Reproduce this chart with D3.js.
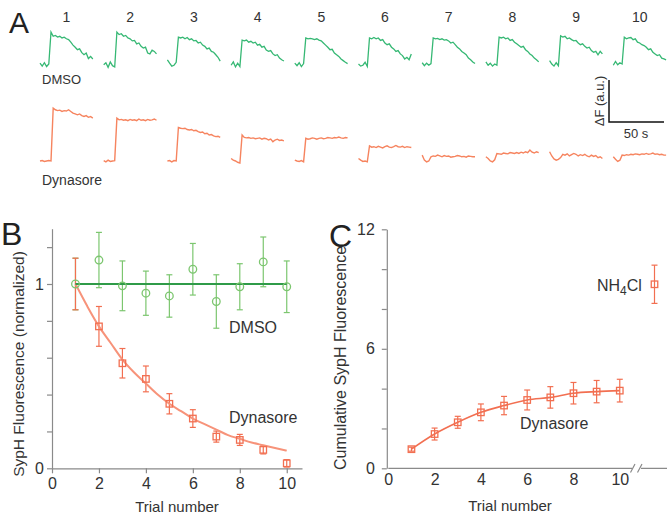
<!DOCTYPE html>
<html><head><meta charset="utf-8">
<script src="https://cdn.jsdelivr.net/npm/d3@7/dist/d3.min.js"></script>
<style>
body{margin:0;background:#fff;}
svg{display:block;font-family:"Liberation Sans",Arial,sans-serif;}
</style></head>
<body><svg id="c" width="667" height="518"></svg>
<script>
// ---------- DATA ----------
const trials = [1,2,3,4,5,6,7,8,9,10];
// Panel A traces: ΔF (a.u.) sampled every 2 s (0..48 s)
const traceTimes = d3.range(0, 50, 2);
const dmsoTraces = [
 [0.02,-0.05,0.03,-0.06,0.00,0.76,0.66,0.68,0.64,0.66,0.62,0.64,0.60,0.58,0.52,0.45,0.40,0.34,0.36,0.27,0.22,0.26,0.13,0.18,0.12],
 [-0.02,0.03,-0.08,0.05,-0.04,-0.07,0.76,0.70,0.72,0.66,0.68,0.62,0.60,0.55,0.56,0.48,0.50,0.42,0.38,0.40,0.26,0.24,0.33,0.30,0.24],
 [0.10,0.02,-0.05,-0.03,0.04,0.64,0.62,0.64,0.60,0.63,0.58,0.60,0.55,0.56,0.50,0.52,0.45,0.42,0.36,0.38,0.30,0.28,0.22,0.16,0.07],
 [-0.03,0.05,-0.07,0.02,-0.06,0.57,0.55,0.57,0.52,0.54,0.50,0.52,0.45,0.47,0.40,0.42,0.33,0.30,0.32,0.24,0.20,0.22,0.14,0.10,0.07],
 [0.02,-0.04,0.03,-0.06,0.01,0.62,0.60,0.61,0.60,0.58,0.60,0.57,0.55,0.50,0.45,0.40,0.34,0.35,0.26,0.22,0.18,0.12,0.08,0.04,0.01],
 [0.00,-0.05,-0.03,0.04,-0.06,0.62,0.60,0.63,0.60,0.62,0.56,0.58,0.50,0.46,0.48,0.40,0.36,0.30,0.32,0.24,0.20,0.12,0.16,0.10,0.24],
 [0.03,-0.04,0.02,-0.03,0.01,0.62,0.60,0.61,0.58,0.60,0.57,0.58,0.55,0.50,0.52,0.46,0.40,0.36,0.30,0.26,0.22,0.14,0.10,0.05,0.01],
 [0.05,-0.03,0.02,-0.05,0.00,-0.03,0.64,0.62,0.64,0.60,0.62,0.56,0.58,0.52,0.48,0.44,0.40,0.42,0.34,0.30,0.24,0.20,0.14,0.10,0.05],
 [0.08,0.00,-0.05,0.03,-0.04,0.67,0.64,0.66,0.60,0.62,0.58,0.55,0.56,0.50,0.46,0.48,0.42,0.38,0.40,0.32,0.28,0.30,0.22,0.30,0.24],
 [-0.03,0.06,-0.02,0.03,0.00,0.64,0.60,0.62,0.63,0.58,0.60,0.52,0.50,0.46,0.44,0.40,0.34,0.36,0.28,0.24,0.20,0.22,0.14,0.12,0.10]
];
const dynTraces = [
 [0.00,0.01,-0.01,0.00,0.01,0.00,1.26,1.22,1.20,1.21,1.18,1.20,1.19,1.22,1.18,1.14,1.12,1.10,1.12,1.08,1.06,1.08,1.04,1.06,1.02],
 [0.01,-0.02,0.02,-0.01,0.00,0.01,1.02,0.98,0.99,0.97,0.98,0.96,0.99,0.97,0.98,0.96,1.00,0.97,0.98,0.96,0.99,0.97,0.98,1.00,0.97],
 [0.00,0.01,-0.02,0.01,0.00,0.80,0.78,0.77,0.78,0.75,0.74,0.75,0.72,0.73,0.70,0.68,0.69,0.65,0.66,0.62,0.63,0.60,0.58,0.59,0.56],
 [0.06,0.02,0.00,-0.03,-0.05,0.62,0.56,0.55,0.56,0.54,0.55,0.53,0.54,0.55,0.52,0.54,0.53,0.50,0.52,0.46,0.50,0.52,0.49,0.50,0.48],
 [0.02,0.00,-0.01,0.01,-0.02,0.54,0.52,0.53,0.55,0.54,0.52,0.54,0.55,0.53,0.54,0.56,0.55,0.54,0.56,0.55,0.57,0.55,0.54,0.56,0.55],
 [0.06,0.02,-0.01,0.00,-0.02,0.36,0.33,0.34,0.32,0.35,0.33,0.31,0.34,0.36,0.33,0.32,0.34,0.37,0.34,0.33,0.35,0.32,0.34,0.33,0.32],
 [0.14,0.02,-0.02,0.00,0.10,0.12,0.11,0.14,0.12,0.10,0.13,0.11,0.12,0.09,0.10,0.11,0.13,0.12,0.10,0.11,0.09,0.12,0.11,0.10,0.10],
 [0.10,0.06,0.00,-0.02,0.03,0.18,0.17,0.16,0.19,0.18,0.17,0.20,0.19,0.18,0.20,0.18,0.21,0.19,0.22,0.20,0.26,0.21,0.19,0.22,0.20],
 [0.22,0.12,0.05,0.02,0.04,0.08,0.16,0.14,0.17,0.12,0.15,0.18,0.16,0.12,0.15,0.13,0.16,0.12,0.10,0.14,0.11,0.13,0.08,0.10,0.06],
 [0.10,0.04,-0.01,0.02,0.14,0.13,0.15,0.14,0.16,0.15,0.17,0.16,0.15,0.17,0.16,0.18,0.16,0.17,0.19,0.16,0.17,0.15,0.16,0.14,0.14]
];
// Panel B: normalized SypH fluorescence
const dmsoMean = [1.00,1.13,0.99,0.95,0.935,1.08,0.905,0.985,1.12,0.985];
const dmsoErr  = [0.14,0.15,0.135,0.12,0.115,0.14,0.145,0.125,0.135,0.14];
const dynMean  = [1.00,0.77,0.57,0.485,0.35,0.27,0.172,0.154,0.10,0.027];
const dynErr   = [0.14,0.108,0.08,0.07,0.055,0.048,0.03,0.03,0.022,0.02];
const fitX     = [1,1.5,2,2.5,3,3.5,4,4.5,5,5.5,6,6.5,7,7.5,8,8.5,9,9.5,10];
const fitY     = [1,0.88,0.77,0.68,0.59,0.52,0.46,0.40,0.35,0.31,0.27,0.24,0.21,0.18,0.16,0.14,0.125,0.11,0.096];
// Panel C: cumulative
const cumMean  = [0.96,1.72,2.31,2.81,3.15,3.43,3.56,3.77,3.85,3.90];
const cumErr   = [0.10,0.30,0.30,0.42,0.46,0.50,0.54,0.54,0.56,0.57];
const nh4Pos = 11.5, nh4Mean = 9.24, nh4Err = 0.96;
const bYTicks = [0,0.2,0.4,0.6,0.8,1,1.2];
const cYTicks = [0,2,4,6,8,10,12];
const xTicks = [0,2,4,6,8,10];

// ---------- STYLE ----------
const GREEN_TR = "#36b874", ORANGE_TR = "#f6845f";
const GREEN_PT = "#7cc66f", GREEN_LN = "#2f9b48";
const ORANGE_PT = "#f26f51", ORANGE_LN = "#f7937a";
const AXIS = "#8a8a8a", TXT = "#333";

const svg = d3.select("#c");

// ---------- PANEL A ----------
const xStart = d3.scaleLinear().domain([1,10]).range([40,613.3]);
const xT = d3.scaleLinear().domain([0,48]).range([0,52.8]);
const yT = d3.scaleLinear().domain([0,1]).range([0,-42]);
const tline = d3.line().x((d,j)=>xT(traceTimes[j])).y(d=>yT(d));

svg.append("text").attr("x",9).attr("y",33).attr("font-size",30).attr("fill","#222").text("A");

trials.forEach((t,i)=>{
  svg.append("text").attr("x",xStart(t)+26.5).attr("y",22).attr("text-anchor","middle")
    .attr("font-size",14).attr("fill",TXT).text(t);
  svg.append("path").attr("transform",`translate(${xStart(t)},64)`)
    .attr("d",tline(dmsoTraces[i])).attr("fill","none").attr("stroke",GREEN_TR).attr("stroke-width",1.3);
  svg.append("path").attr("transform",`translate(${xStart(t)},161)`)
    .attr("d",tline(dynTraces[i])).attr("fill","none").attr("stroke",ORANGE_TR).attr("stroke-width",1.4);
});
svg.append("text").attr("x",42).attr("y",84).attr("font-size",13).attr("fill",TXT).text("DMSO");
svg.append("text").attr("x",42).attr("y",185).attr("font-size",14).attr("fill",TXT).text("Dynasore");

// scale bar
const sbX = 609, sbY = 122;
svg.append("path").attr("d",`M${sbX},${sbY+yT(1)}V${sbY}H${sbX+xT(50)}`)
  .attr("fill","none").attr("stroke","#111").attr("stroke-width",1.5);
svg.append("text").attr("transform",`translate(${sbX-5},${sbY-21}) rotate(-90)`)
  .attr("text-anchor","middle").attr("font-size",13).attr("fill",TXT).text("ΔF (a.u.)");
svg.append("text").attr("x",sbX+27).attr("y",138).attr("text-anchor","middle")
  .attr("font-size",13).attr("fill",TXT).text("50 s");

// ---------- helpers ----------
function styleAxis(g){
  g.selectAll("path,line").attr("stroke",AXIS).attr("stroke-width",1.2);
  g.selectAll("text").attr("fill",TXT).attr("font-size",16).attr("font-family",null);
}
function errBars(g, xs, ys, es, xS, yS, color, cap){
  xs.forEach((x,i)=>{
    const X = xS(x);
    g.append("line").attr("x1",X).attr("x2",X).attr("y1",yS(ys[i]-es[i])).attr("y2",yS(ys[i]+es[i]))
      .attr("stroke",color).attr("stroke-width",1.2);
    [ys[i]-es[i], ys[i]+es[i]].forEach(v=>{
      g.append("line").attr("x1",X-cap).attr("x2",X+cap).attr("y1",yS(v)).attr("y2",yS(v))
        .attr("stroke",color).attr("stroke-width",1.2);
    });
  });
}
function squares(g, xs, ys, xS, yS, color, s){
  xs.forEach((x,i)=>{
    g.append("rect").attr("x",xS(x)-s/2).attr("y",yS(ys[i])-s/2).attr("width",s).attr("height",s)
      .attr("fill","none").attr("stroke",color).attr("stroke-width",1.3);
  });
}

// ---------- PANEL B ----------
const xB = d3.scaleLinear().domain([0,10.65]).range([52,302]);
const yB = d3.scaleLinear().domain([0,1.3]).range([468.3,228.7]);
const gB = svg.append("g");
gB.append("g").attr("transform","translate(0,468.3)")
  .call(d3.axisBottom(xB).tickValues(xTicks).tickSize(5).tickPadding(4).tickSizeOuter(0)).call(styleAxis);
gB.append("g").attr("transform","translate(52,0)")
  .call(d3.axisLeft(yB).tickValues(bYTicks).tickFormat(d=>(d===0||d===1)?d:"").tickSize(5).tickPadding(3).tickSizeOuter(0))
  .call(styleAxis);
svg.append("text").attr("x",1).attr("y",245).attr("font-size",32).attr("fill","#222").text("B");
svg.append("text").attr("transform","translate(18,364) rotate(-90)").attr("text-anchor","middle")
  .attr("dominant-baseline","central").attr("font-size",15.5).attr("fill",TXT).text("SypH Fluorescence (normalized)");
svg.append("text").attr("x",177).attr("y",512).attr("text-anchor","middle").attr("font-size",15).attr("fill",TXT).text("Trial number");

errBars(gB, trials, dmsoMean, dmsoErr, xB, yB, GREEN_PT, 3);
errBars(gB, trials, dynMean, dynErr, xB, yB, ORANGE_PT, 3);
gB.append("path").attr("d",d3.line().x((d,i)=>xB(fitX[i])).y(d=>yB(d)).curve(d3.curveMonotoneX)(fitY))
  .attr("fill","none").attr("stroke",ORANGE_LN).attr("stroke-width",2);
gB.append("line").attr("x1",xB(1)).attr("x2",xB(10)).attr("y1",yB(1)).attr("y2",yB(1))
  .attr("stroke",GREEN_LN).attr("stroke-width",2);
trials.forEach((t,i)=>{
  gB.append("circle").attr("cx",xB(t)).attr("cy",yB(dmsoMean[i])).attr("r",3.8)
    .attr("fill","none").attr("stroke",GREEN_PT).attr("stroke-width",1.3);
});
squares(gB, trials.slice(1), dynMean.slice(1), xB, yB, ORANGE_PT, 6.5);
gB.append("text").attr("x",229).attr("y",333).attr("font-size",16).attr("fill",TXT).text("DMSO");
gB.append("text").attr("x",229).attr("y",423).attr("font-size",16).attr("fill",TXT).text("Dynasore");

// ---------- PANEL C ----------
const xC = d3.scaleLinear().domain([0,12.04]).range([388.3,667]);
const yC = d3.scaleLinear().domain([0,12]).range([468.3,229.3]);
const gC = svg.append("g");
const axC = gC.append("g").attr("transform","translate(0,468.3)")
  .call(d3.axisBottom(xC).tickValues(xTicks).tickSize(0).tickPadding(5).tickSizeOuter(0)).call(styleAxis);
axC.select(".domain").remove();
gC.append("path").attr("d",`M${xC(0)},468.3H632M641,468.3H667`).attr("stroke",AXIS).attr("stroke-width",1.2).attr("fill","none");
gC.append("path").attr("d","M630.5,472.5L635,464M637.5,472.5L642,464").attr("stroke",AXIS).attr("stroke-width",1.2).attr("fill","none");
gC.append("g").attr("transform",`translate(${xC(0)-1.5},0)`)
  .call(d3.axisLeft(yC).tickValues(cYTicks).tickFormat(d=>(d%6===0)?d:"").tickSize(5).tickPadding(7).tickSizeOuter(0))
  .call(styleAxis);
svg.append("text").attr("x",329).attr("y",247).attr("font-size",32).attr("fill","#222").text("C");
svg.append("text").attr("transform","translate(340,358) rotate(-90)").attr("text-anchor","middle")
  .attr("dominant-baseline","central").attr("font-size",16).attr("fill",TXT).text("Cumulative SypH Fluorescence");
svg.append("text").attr("x",510).attr("y",511).attr("text-anchor","middle").attr("font-size",15).attr("fill",TXT).text("Trial number");

errBars(gC, trials, cumMean, cumErr, xC, yC, ORANGE_PT, 3);
gC.append("path").attr("d",d3.line().x((d,i)=>xC(trials[i])).y(d=>yC(d)).curve(d3.curveMonotoneX)(cumMean))
  .attr("fill","none").attr("stroke",ORANGE_PT).attr("stroke-width",1.6);
squares(gC, trials, cumMean, xC, yC, ORANGE_PT, 6.5);
errBars(gC, [nh4Pos], [nh4Mean], [nh4Err], xC, yC, ORANGE_PT, 3);
squares(gC, [nh4Pos], [nh4Mean], xC, yC, ORANGE_PT, 6.5);
const nh = gC.append("text").attr("x",597).attr("y",291).attr("font-size",16).attr("fill",TXT);
nh.append("tspan").text("NH");
nh.append("tspan").attr("dy",4).attr("font-size",12).text("4");
nh.append("tspan").attr("dy",-4).text("Cl");
gC.append("text").attr("x",520).attr("y",429).attr("font-size",16).attr("fill",TXT).text("Dynasore");
</script></body></html>
